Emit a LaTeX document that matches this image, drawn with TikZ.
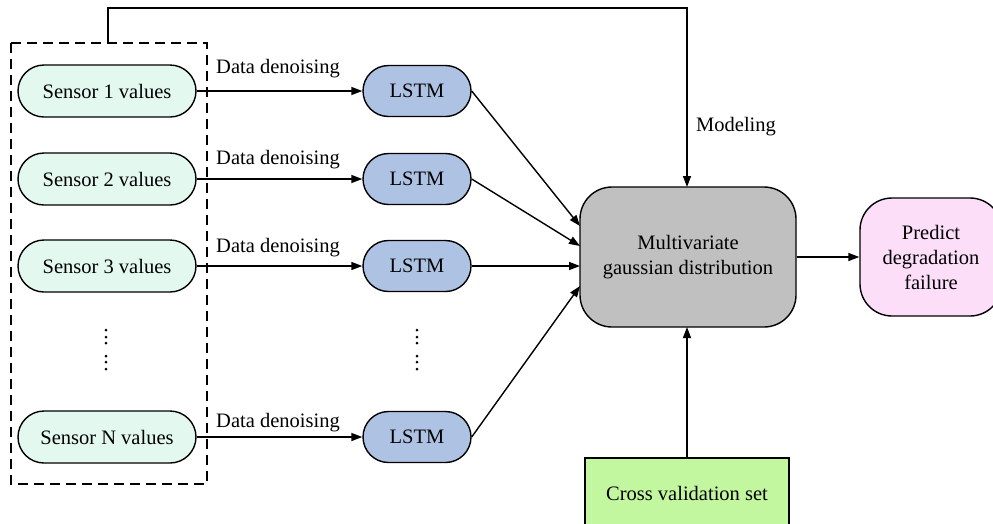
\documentclass[tikz,border=0pt]{standalone}
\usepackage{fontspec}
\setmainfont{Liberation Serif}
\usetikzlibrary{arrows.meta,positioning}
\definecolor{sensorfill}{HTML}{E3F8EE}
\definecolor{lstmfill}{HTML}{AEC3E4}
\definecolor{mvgfill}{HTML}{C0C0C0}
\definecolor{predfill}{HTML}{FCDEF8}
\definecolor{cvfill}{HTML}{C2F7A0}
\tikzset{
  base/.style={draw=black,line width=1.4pt,font=\fontsize{20.5}{25}\selectfont,align=center,inner sep=0pt},
  sensorbox/.style={base,fill=sensorfill,rounded corners=26pt,minimum width=178pt,minimum height=52pt},
  lstmbox/.style={base,fill=lstmfill,rounded corners=25.5pt,minimum width=108pt,minimum height=51pt},
  mvgbox/.style={base,fill=mvgfill,rounded corners=32pt,minimum width=216pt,minimum height=140pt},
  predbox/.style={base,fill=predfill,rounded corners=32pt,minimum width=142pt,minimum height=118pt},
  cvbox/.style={base,fill=cvfill,minimum width=204pt,minimum height=70pt},
  conn/.style={line width=1.4pt,-{Triangle[length=11pt,width=8pt]}},
  lbl/.style={font=\fontsize{20.5}{24}\selectfont,inner sep=0pt},
  dotmark/.style={circle,fill=black,inner sep=0pt,minimum size=3pt}
}
\begin{document}
\begin{tikzpicture}[x=1pt,y=-1pt]
\useasboundingbox (0,0) rectangle (993,523);
% dashed group
\draw[line width=1.4pt,dash pattern=on 10pt off 6pt] (11,43) rectangle (207,484);
\coordinate (gtop) at (108,43);
% sensors
\node[sensorbox] (s1) at (107,91) {Sensor 1 values};
\node[sensorbox] (s2) at (107,179) {Sensor 2 values};
\node[sensorbox] (s3) at (107,266) {Sensor 3 values};
\node[sensorbox] (sn) at (107,437) {Sensor N values};
% lstm
\node[lstmbox] (l1) at (417,91) {LSTM};
\node[lstmbox] (l2) at (417,179) {LSTM};
\node[lstmbox] (l3) at (417,266) {LSTM};
\node[lstmbox] (ln) at (417,437) {LSTM};
% dots
\foreach \yy [count=\i] in {330,337,343,356,362,369}{
  \node[dotmark] (sd\i) at (106,\yy) {};
  \node[dotmark] (ld\i) at (417,\yy) {};
}
% central
\node[mvgbox] (mvg) at (688,257) {Multivariate\\gaussian distribution};
\node[predbox] (pred) at (931,257) {Predict\\degradation\\failure};
\node[cvbox] (cv) at (687,493) {Cross validation set};
% sensor -> lstm
\foreach \a/\b in {s1/l1,s2/l2,s3/l3,sn/ln}{
  \draw[conn] (\a.east) -- (\b.west);
}
\node[lbl,anchor=west] (d1) at (216,69) {Data denoising};
\node[lbl,anchor=west] (d2) at (216,160) {Data denoising};
\node[lbl,anchor=west] (d3) at (216,248) {Data denoising};
\node[lbl,anchor=west] (dn) at (216,423) {Data denoising};
% lstm -> mvg
\coordinate (m1) at (580,226);
\coordinate (m2) at (580,246);
\coordinate (m3) at (580,266);
\coordinate (m4) at (580,286);
\draw[conn] (l1.east) -- (m1);
\draw[conn] (l2.east) -- (m2);
\draw[conn] (l3.east) -- (m3);
\draw[conn] (ln.east) -- (m4);
% modeling
\draw[conn] (gtop) -- (108,8) -- (687,8) -- (687,187);
\node[lbl,anchor=west] (mod) at (696,127) {Modeling};
% others
\draw[conn] (mvg.east) -- (pred.west);
\draw[conn] (cv.north) -- (687,327);
\end{tikzpicture}
\end{document}
